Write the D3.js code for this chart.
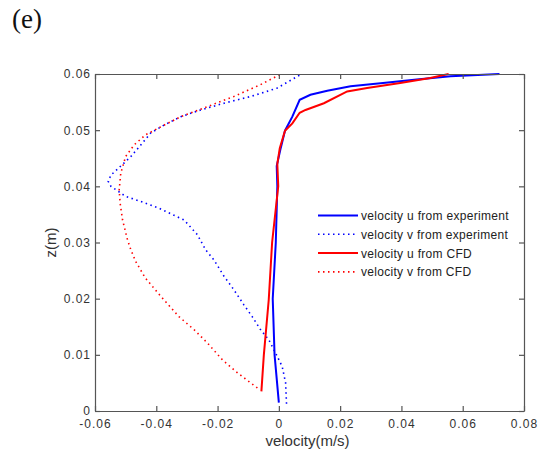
<!DOCTYPE html>
<html><head><meta charset="utf-8">
<script src="https://cdn.jsdelivr.net/npm/d3@7"></script>
<style>body{margin:0;background:#fff;} svg{display:block;}</style>
</head><body>
<svg id="c" width="543" height="453"></svg>
<script>
// Data: [velocity, z]
const uExp = [[0,0.0015],[-0.0014,0.01],[-0.002,0.02],[-0.001,0.03],[-0.0005,0.04],[-0.0007,0.0436],[0.0006,0.0468],[0.002,0.0499],[0.0044,0.0524],[0.0068,0.0554],[0.0103,0.0563],[0.0158,0.057],[0.0234,0.0578],[0.034,0.0584],[0.045,0.059],[0.056,0.0596],[0.072,0.06]];
const vExp = [[0.0025,0.0013],[0.0022,0.005],[0.0011,0.0079],[-0.0005,0.0097],[-0.0033,0.0127],[-0.006,0.0145],[-0.0087,0.0168],[-0.0114,0.0189],[-0.0147,0.0216],[-0.0179,0.024],[-0.0212,0.0269],[-0.0239,0.0287],[-0.0266,0.0314],[-0.0309,0.034],[-0.0391,0.0361],[-0.045,0.0373],[-0.05,0.0382],[-0.0548,0.04],[-0.0557,0.0409],[-0.0548,0.042],[-0.0518,0.0435],[-0.0483,0.0453],[-0.045,0.0474],[-0.0418,0.0495],[-0.0375,0.0509],[-0.032,0.0524],[-0.0255,0.0536],[-0.0179,0.0548],[-0.0092,0.056],[-0.0005,0.0575],[0.0068,0.0598],[0.0072,0.06]];
const uCfd = [[-0.0057,0.0035],[-0.0049,0.01],[-0.0033,0.0198],[-0.0022,0.03],[-0.0002,0.04],[-0.0005,0.044],[0.0003,0.0468],[0.002,0.0499],[0.0044,0.0512],[0.0068,0.0531],[0.0087,0.0536],[0.0147,0.0548],[0.0223,0.0569],[0.0288,0.0575],[0.0396,0.0584],[0.0494,0.0593],[0.0554,0.06]];
const vCfd = [[-0.007,0.0041],[-0.0092,0.005],[-0.0135,0.0068],[-0.0184,0.0091],[-0.0233,0.0121],[-0.0277,0.0145],[-0.0326,0.0168],[-0.0385,0.0204],[-0.0436,0.0237],[-0.0467,0.0266],[-0.0483,0.0287],[-0.0494,0.0305],[-0.051,0.034],[-0.0518,0.037],[-0.0521,0.0394],[-0.0516,0.0423],[-0.05,0.0453],[-0.0472,0.0474],[-0.0434,0.0492],[-0.0385,0.0506],[-0.032,0.0524],[-0.0233,0.0542],[-0.0147,0.056],[-0.006,0.0581],[0,0.0598],[0.0005,0.06]];
const xTicks = [-0.06,-0.04,-0.02,0,0.02,0.04,0.06,0.08];
const yTicks = [0,0.01,0.02,0.03,0.04,0.05,0.06];
const legendLabels = ["velocity u from experiment","velocity v from experiment","velocity u from CFD","velocity v from CFD"];

const svg = d3.select("#c");
const m = {l:95,r:19,t:74,b:42};
const W = 543, H = 453;
const x = d3.scaleLinear().domain([-0.06,0.08]).range([m.l, W-m.r]);
const y = d3.scaleLinear().domain([0,0.06]).range([H-m.b, m.t]);

svg.append("text").attr("x",12).attr("y",28).attr("font-family","'Liberation Serif', 'Times New Roman', serif").attr("font-size",27).attr("fill","#111").text("(e)");

const loc = d3.formatLocale({decimal:".",thousands:",",grouping:[3],currency:["",""],minus:"-"});
const f2 = loc.format(".2f");
const fmt = d => d===0 ? "0" : f2(d);
const axisCol = "#555";
const tf = "'Liberation Sans', Arial, sans-serif";

svg.append("clipPath").attr("id","cl").append("rect").attr("x",m.l).attr("y",m.t-2).attr("width",W-m.l-m.r).attr("height",H-m.t-m.b+2);

const series = [
  {d:uExp,c:"#0000ff",dash:null,w:2},
  {d:vExp,c:"#0000ff",dash:"1.5,3.5",w:1.6},
  {d:uCfd,c:"#ff0000",dash:null,w:2},
  {d:vCfd,c:"#ff0000",dash:"1.5,3.5",w:1.6}
];
const line = d3.line().x(d=>x(d[0])).y(d=>y(d[1]));
const g = svg.append("g").attr("clip-path","url(#cl)");
series.forEach(s=>{
  g.append("path").attr("d",line(s.d)).attr("fill","none").attr("stroke",s.c).attr("stroke-width",s.w).attr("stroke-dasharray",s.dash);
});

// axes
const xb = svg.append("g").attr("transform",`translate(0,${H-m.b})`).call(d3.axisBottom(x).tickValues(xTicks).tickFormat(fmt).tickSizeInner(-5).tickSizeOuter(0).tickPadding(8.5));
const xt = svg.append("g").attr("transform",`translate(0,${m.t})`).call(d3.axisTop(x).tickValues(xTicks).tickFormat("").tickSizeInner(-5).tickSizeOuter(0));
const yl = svg.append("g").attr("transform",`translate(${m.l},0)`).call(d3.axisLeft(y).tickValues(yTicks).tickFormat(fmt).tickSizeInner(-5).tickSizeOuter(0).tickPadding(5));
const yr = svg.append("g").attr("transform",`translate(${W-m.r},0)`).call(d3.axisRight(y).tickValues(yTicks).tickFormat("").tickSizeInner(-5).tickSizeOuter(0));
[xb,xt,yl,yr].forEach(a=>{
  a.selectAll("path,line").attr("stroke",axisCol).attr("stroke-width",1.2);
  a.selectAll("text").attr("fill","#333").attr("font-family",tf).attr("font-size",12).attr("letter-spacing",1);
});
yl.selectAll("text").attr("dx",1);

svg.append("text").attr("x",(m.l+W-m.r)/2 - 2).attr("y",446).attr("text-anchor","middle").attr("font-family",tf).attr("font-size",15).attr("fill","#333").text("velocity(m/s)");
svg.append("text").attr("transform",`translate(56,${(m.t+H-m.b)/2}) rotate(-90)`).attr("text-anchor","middle").attr("font-family",tf).attr("font-size",15).attr("fill","#333").text("z(m)");

// legend
const lg = svg.append("g");
legendLabels.forEach((t,i)=>{
  const yy = 215.5 + i*18.8;
  const s = series[i];
  lg.append("line").attr("x1",318).attr("x2",358).attr("y1",yy).attr("y2",yy).attr("stroke",s.c).attr("stroke-width",s.w).attr("stroke-dasharray",s.dash);
  lg.append("text").attr("x",361).attr("y",yy+4.5).attr("font-family",tf).attr("font-size",12).attr("letter-spacing",0.3).attr("fill","#222").text(t);
});
</script>
</body></html>
